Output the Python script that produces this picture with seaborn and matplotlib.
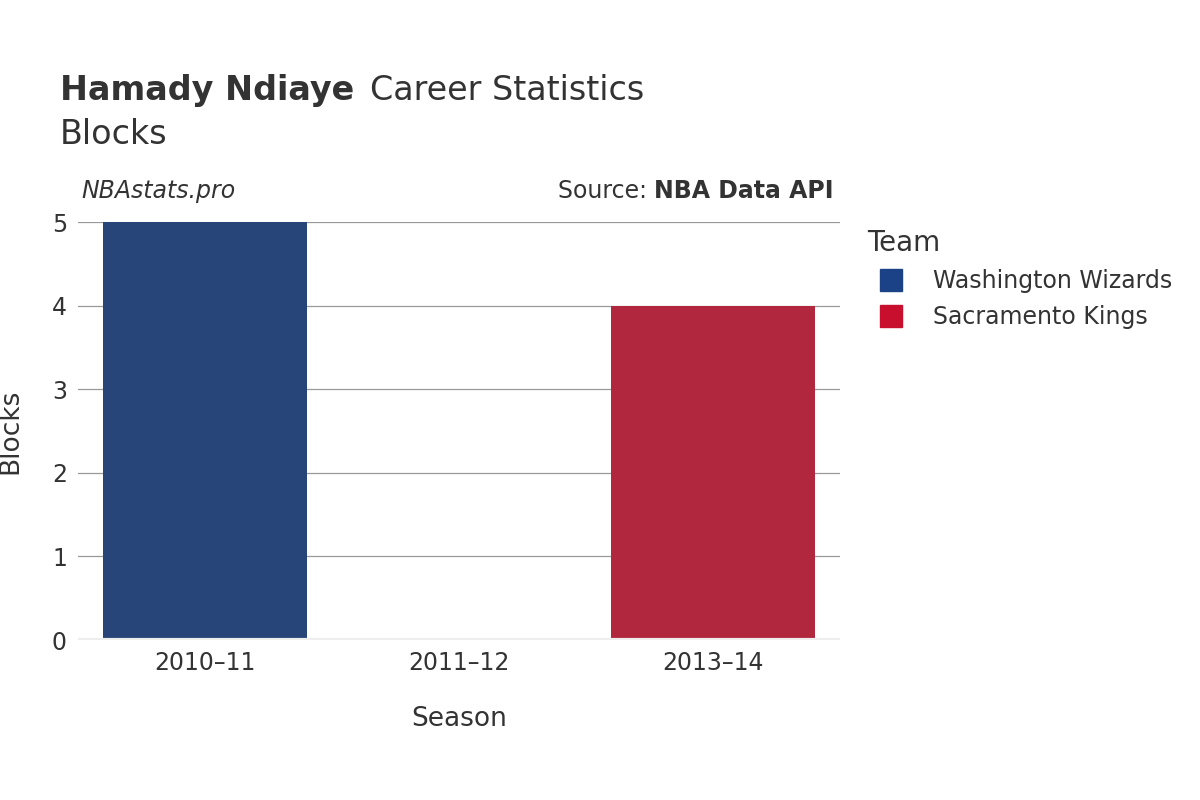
import matplotlib
matplotlib.use("Agg")
import matplotlib.pyplot as plt
import seaborn as sns
import pandas as pd
from matplotlib.lines import Line2D

seasons = ["2010–11", "2011–12", "2013–14"]
teams = ["Washington Wizards", "Washington Wizards", "Sacramento Kings"]
blocks = [5, 0, 4]
team_colors = {"Washington Wizards": "#1b4186", "Sacramento Kings": "#c8102e"}

df = pd.DataFrame({"Season": seasons, "Team": teams, "Blocks": blocks})

fig = plt.figure(figsize=(12, 8), dpi=100)
ax = fig.add_axes([0.065, 0.2, 0.635, 0.5225])
sns.barplot(data=df, x="Season", y="Blocks", hue="Team", palette=team_colors,
            dodge=False, width=0.8, ax=ax, legend=False, zorder=2)

ax.set_ylim(0, 5)
ax.set_yticks(range(6))
ax.grid(axis="y", color="#999999", linewidth=0.9, zorder=0)
ax.set_axisbelow(True)
for s in ax.spines.values():
    s.set_visible(False)
ax.axhline(0, color="#eeeeee", linewidth=3, zorder=3)
ax.tick_params(length=0, labelsize=17, colors="#333333", pad=8)
ax.set_xlabel("Season", fontsize=19, color="#333333", labelpad=22)
ax.set_ylabel("Blocks", fontsize=19, color="#333333", labelpad=20)

fig.text(0.05, 0.875, "Hamady Ndiaye", fontsize=24, fontweight="bold", color="#333333")
fig.text(0.308, 0.875, "Career Statistics", fontsize=24, color="#333333")
fig.text(0.05, 0.82, "Blocks", fontsize=24, color="#333333")
fig.text(0.068, 0.752, "NBAstats.pro", fontsize=17, style="italic", color="#333333")
fig.text(0.697, 0.752, "Source: ", fontsize=17, color="#333333", ha="right")
fig.text(0.697, 0.752, "NBA Data API", fontsize=17, fontweight="bold", color="#333333", ha="left",
         transform=fig.transFigure)
# reposition: place source pieces right-aligned
fig.texts[-2].set_position((0.545, 0.752)); fig.texts[-2].set_ha("right")
fig.texts[-1].set_position((0.545, 0.752))

handles = [Line2D([], [], marker="s", linestyle="", markersize=16, color=c) for c in team_colors.values()]
leg = fig.legend(handles, list(team_colors.keys()), title="Team", loc="upper left",
                 bbox_to_anchor=(0.705, 0.74), frameon=False, fontsize=17,
                 title_fontsize=20, labelcolor="#333333", handletextpad=0.8, labelspacing=0.5)
leg.get_title().set_color("#333333")
leg._legend_box.align = "left"

fig.savefig("out.png")
